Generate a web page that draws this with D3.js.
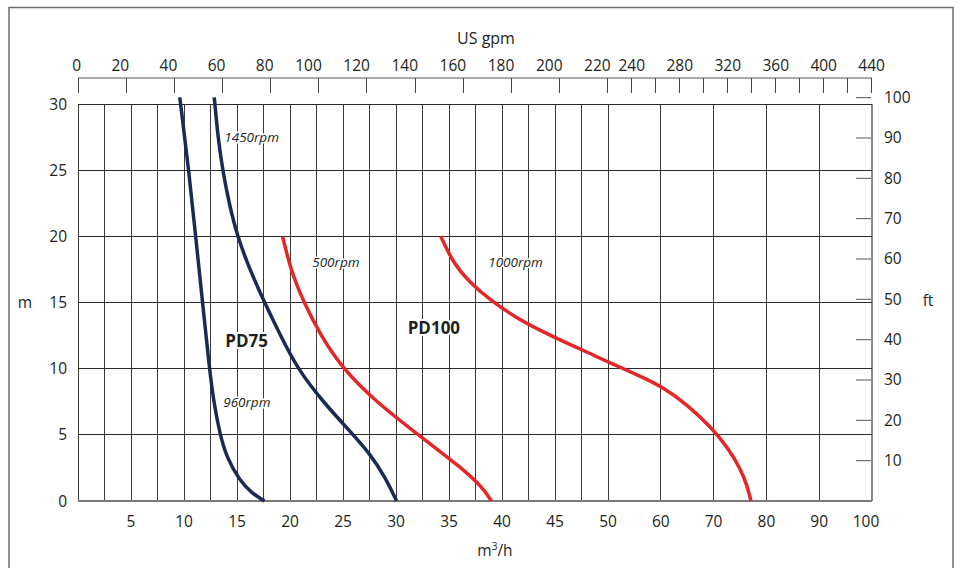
<!DOCTYPE html>
<html><head><meta charset="utf-8">
<script src="https://cdn.jsdelivr.net/npm/d3@7"></script>
<style>body{margin:0;background:#fff}svg{display:block}text{font-family:"Open Sans","Noto Sans",sans-serif;fill:#231f20}</style>
</head><body><svg id="c" width="960" height="568"></svg>
<script>
// ---- data ----
const flowTicks = [5,10,15,20,25,30,35,40,45,50,60,70,80,90,100];     // m3/h labels
const flowGrid  = [0,2.5,5,7.5,10,12.5,15,17.5,20,22.5,25,27.5,30,32.5,35,37.5,40,42.5,45,47.5,50,60,70,80,90,100];
const headTicks = [0,5,10,15,20,25,30];                                // m
const ftTicks   = [10,20,30,40,50,60,70,80,90,100];                    // ft
const gpmTicks  = [0,20,40,60,80,100,120,140,160,180,200,220,240,260,280,300,320,340,360,380,400,420,440];
const gpmLabels = [0,20,40,60,80,100,120,140,160,180,200,220,240,280,320,360,400,440];

const pd75_960Q  = [9.6,9.68,10.45,11.1,11.75,12.4,12.8,13.4,14.0,15.2,16.4,17.6];
const pd75_960H  = [30.5,30,25,20,15,10,7.5,5,3.35,1.59,0.58,0];
const pd75_1450Q = [12.85,12.92,13.2,13.65,14.25,15.03,16.2,17.6,19.1,20.7,23.1,25.97,27.5,28.96,30.06];
const pd75_1450H = [30.5,30,27.5,25,22.5,20,17.5,15,12.5,10,7.5,5,3.6,1.84,0];
const pd100_500Q = [19.3,20.05,21.3,22.9,24.97,28.1,32.1,36.2,38.2,39.0];
const pd100_500H = [20,17.5,15,12.5,10,7.5,5,2.5,1,0];
const pd100_1000Q= [34.22,35.38,36.98,38.87,41.23,43.58,45.94,48.3,50,56.06,60,65,69.7,72.73,75,76.33,77.08];
const pd100_1000H= [20,18,16.5,15.2,13.9,12.9,12.0,11.15,10.5,9.45,8.7,7.3,5.5,4.0,2.5,1.2,0];

const curveLabels = [
  {t:"1450rpm", q:13.8, h:27.1, bold:false},
  {t:"500rpm",  q:22.1, h:17.7, bold:false},
  {t:"1000rpm", q:38.7, h:17.7, bold:false},
  {t:"960rpm",  q:13.7, h:7.1,  bold:false},
  {t:"PD75",    q:13.9, h:11.6, bold:true},
  {t:"PD100",   q:31.1, h:12.6, bold:true}
];

const GPM_TO_M3H = 0.2271247;
const FT_TO_M = 0.3048;
const FS = 15.5;

// ---- chart ----
const svg = d3.select("#c");
const x = d3.scaleLinear().domain([0,50,100]).range([78,608,872]);
const y = d3.scaleLinear().domain([0,30]).range([501,104]);
const yFt = d3.scaleLinear().domain([0,30/FT_TO_M]).range([501,104]);
const xG = g => x(g*GPM_TO_M3H);

// outer frame
svg.append("path").attr("d","M9,575V7.5H953V575").attr("fill","none").attr("stroke","#6d6d6d").attr("stroke-width",1.5);

// grid
const grid = svg.append("g");
grid.selectAll(".v").data(flowGrid).join("line")
  .attr("x1",d=>x(d)).attr("x2",d=>x(d)).attr("y1",y(30)).attr("y2",y(0))
  .attr("stroke",d=>d===100?"#8a8a8a":"#3a3a3a").attr("stroke-width",d=>d===100?1.5:1).attr("shape-rendering","crispEdges");
grid.selectAll(".h").data(headTicks).join("line")
  .attr("x1",x(0)).attr("x2",x(100)).attr("y1",d=>y(d)).attr("y2",d=>y(d))
  .attr("stroke",d=>d===0?"#7a7a7a":"#2a2a2a").attr("stroke-width",d=>d===0?1.5:1).attr("shape-rendering","crispEdges");

// bottom labels
svg.append("g").selectAll("text").data(flowTicks).join("text")
  .attr("x",d=>x(d)+(d===100?-6:0)).attr("y",527).attr("text-anchor","middle").attr("font-size",FS).text(d=>d);
svg.append("text").attr("x",495).attr("y",556).attr("text-anchor","middle").attr("font-size",FS)
  .html('m<tspan font-size="10" dy="-6">3</tspan><tspan dy="6">/h</tspan>');

// left labels
svg.append("g").selectAll("text").data(headTicks).join("text")
  .attr("x",67).attr("y",d=>y(d)+5.5).attr("text-anchor","end").attr("font-size",FS).text(d=>d);
svg.append("text").attr("x",25).attr("y",308).attr("text-anchor","middle").attr("font-size",FS).text("m");

// right ft axis
svg.append("g").selectAll("line").data(ftTicks).join("line")
  .attr("x1",856).attr("x2",x(100)-1).attr("y1",d=>yFt(d)).attr("y2",d=>yFt(d))
  .attr("stroke","#555").attr("stroke-width",1);
svg.append("g").selectAll("text").data(ftTicks).join("text")
  .attr("x",884).attr("y",d=>yFt(d)+5.5).attr("font-size",FS).text(d=>d);
svg.append("text").attr("x",928).attr("y",306).attr("text-anchor","middle").attr("font-size",FS).text("ft");

// top gpm axis
svg.append("line").attr("x1",x(0)).attr("x2",x(100)).attr("y1",78).attr("y2",78).attr("stroke","#555").attr("stroke-width",1);
svg.append("g").selectAll("line").data(gpmTicks).join("line")
  .attr("x1",d=>xG(d)).attr("x2",d=>xG(d)).attr("y1",78).attr("y2",93)
  .attr("stroke","#444").attr("stroke-width",1).attr("shape-rendering","crispEdges");
svg.append("g").selectAll("text").data(gpmLabels).join("text")
  .attr("x",d=>d<=220?xG(d)+3:xG(d)).attr("y",71)
  .attr("text-anchor",d=>d<=220?"end":"middle").attr("font-size",FS).text(d=>d);
svg.append("text").attr("x",486).attr("y",44).attr("text-anchor","middle").attr("font-size",FS+0.5).text("US gpm");

// curves
const line = d3.line().x(d=>x(d[0])).y(d=>y(d[1])).curve(d3.curveBasis);
const series = [
  {q:pd75_960Q, h:pd75_960H, c:"#1b2a55"},
  {q:pd75_1450Q,h:pd75_1450H,c:"#1b2a55"},
  {q:pd100_500Q,h:pd100_500H,c:"#e52628"},
  {q:pd100_1000Q,h:pd100_1000H,c:"#e52628"}
];
svg.append("g").selectAll("path").data(series).join("path")
  .attr("d",s=>line(s.q.map((q,i)=>[q,s.h[i]])))
  .attr("fill","none").attr("stroke",s=>s.c).attr("stroke-width",3.5);

// curve labels
svg.append("g").selectAll("text").data(curveLabels).join("text")
  .attr("x",d=>x(d.q)).attr("y",d=>y(d.h))
  .attr("font-size",d=>d.bold?17:13.5)
  .attr("font-weight",d=>d.bold?"bold":"normal")
  .attr("font-style",d=>d.bold?"normal":"italic")
  .style("paint-order","stroke").attr("stroke","#fff").attr("stroke-width",d=>d.bold?4:3)
  .text(d=>d.t);
</script></body></html>
